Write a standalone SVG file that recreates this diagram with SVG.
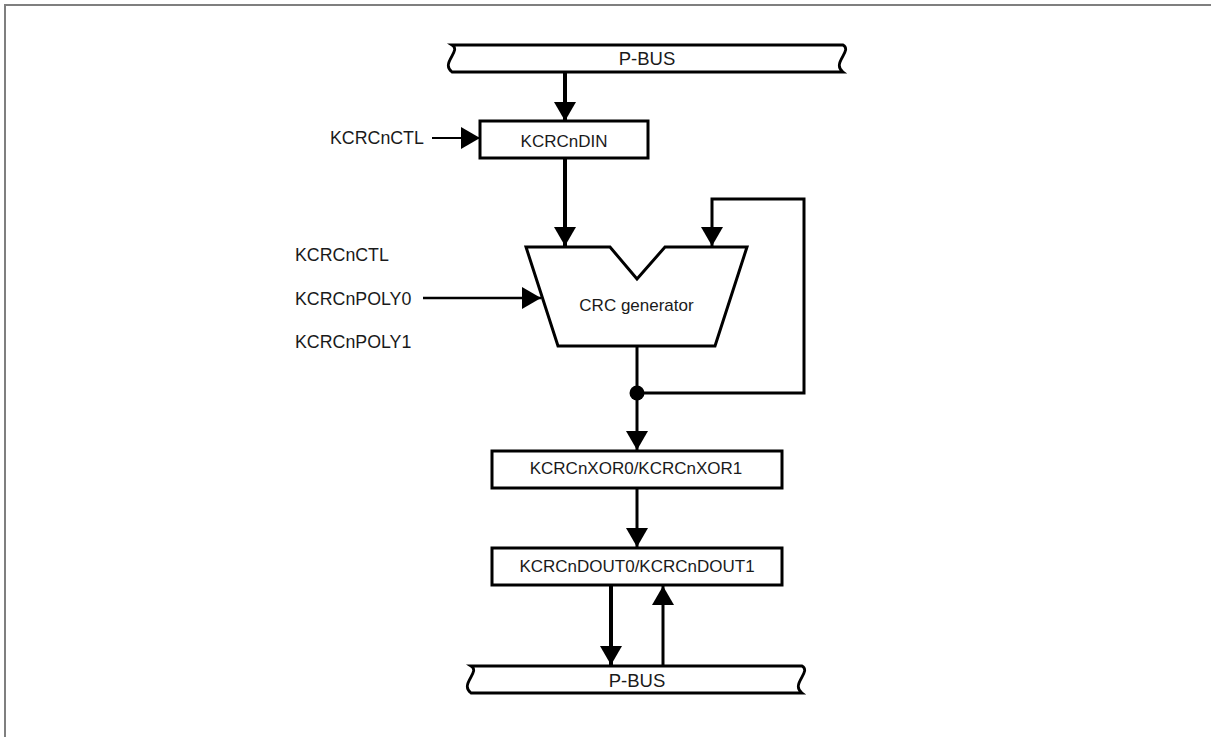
<svg xmlns="http://www.w3.org/2000/svg" width="1211" height="737" viewBox="0 0 1211 737">
<defs>
<style>
.t{font-family:"Liberation Sans",Arial,sans-serif;font-size:17px;fill:#1a1a1a}
.tl{font-size:17.8px}
.tc{text-anchor:middle}
.box{fill:#fff;stroke:#000;stroke-width:3}
.bus{fill:#fff;stroke:#000;stroke-width:2.8}
.c{fill:none;stroke:#000;stroke-linejoin:miter}
</style>
<marker id="ah" markerUnits="userSpaceOnUse" markerWidth="19" markerHeight="22" refX="19" refY="11" orient="auto">
<path d="M0,0 L19,11 L0,22 Z" fill="#000"/>
</marker>
</defs>
<rect width="1211" height="737" fill="#fff"/>
<path d="M5,737 L5,5 L1211,5" fill="none" stroke="#7f7f7f" stroke-width="2"/>

<g id="connectors">
<line class="c" x1="565" y1="72" x2="565" y2="121" stroke-width="4" marker-end="url(#ah)"/>
<line class="c" x1="432" y1="138" x2="480" y2="138" stroke-width="2" marker-end="url(#ah)"/>
<line class="c" x1="565" y1="158" x2="565" y2="246" stroke-width="4" marker-end="url(#ah)"/>
<line class="c" x1="423" y1="298" x2="541" y2="298" stroke-width="2.5" marker-end="url(#ah)"/>
<polyline class="c" points="637,393 804,393 804,199 712,199 712,246" stroke-width="3" marker-end="url(#ah)"/>
<line class="c" x1="637" y1="346" x2="637" y2="450" stroke-width="3" marker-end="url(#ah)"/>
<circle cx="637" cy="393" r="7.5" fill="#000"/>
<line class="c" x1="637" y1="488" x2="637" y2="547" stroke-width="3" marker-end="url(#ah)"/>
<line class="c" x1="611" y1="585" x2="611" y2="665" stroke-width="4" marker-end="url(#ah)"/>
<line class="c" x1="663" y1="666" x2="663" y2="586" stroke-width="3" marker-end="url(#ah)"/>
</g>

<g id="pbus-top">
<path class="bus" d="M452,45 L843,45 C853,51 831,63 843,72 L452,72 C440,63 462,51 452,45 Z"/>
<text class="t tc" x="647" y="65" style="font-size:18.5px">P-BUS</text>
</g>

<g id="din">
<rect class="box" x="480" y="121" width="168" height="37"/>
<text class="t tc" x="564" y="147">KCRCnDIN</text>
</g>

<g id="ctl-label">
<text class="t tl" x="330" y="144">KCRCnCTL</text>
</g>

<g id="left-labels">
<text class="t tl" x="295" y="261">KCRCnCTL</text>
<text class="t tl" x="295" y="304.5">KCRCnPOLY0</text>
<text class="t tl" x="295" y="348">KCRCnPOLY1</text>
</g>

<g id="crc-generator">
<polygon class="box" points="526,247 610,247 637,279 665,247 747,247 715,346 558,346"/>
<text class="t tc" x="636.5" y="311">CRC generator</text>
</g>

<g id="xor">
<rect class="box" x="492" y="451" width="290" height="37"/>
<text class="t tc" x="636" y="474">KCRCnXOR0/KCRCnXOR1</text>
</g>

<g id="dout">
<rect class="box" x="492" y="548" width="290" height="37"/>
<text class="t tc" x="637" y="572">KCRCnDOUT0/KCRCnDOUT1</text>
</g>

<g id="pbus-bottom">
<path class="bus" d="M471,666 L802,666 C812,672 790,684 802,693 L471,693 C459,684 481,672 471,666 Z"/>
<text class="t tc" x="637" y="687" style="font-size:18.5px">P-BUS</text>
</g>
</svg>
